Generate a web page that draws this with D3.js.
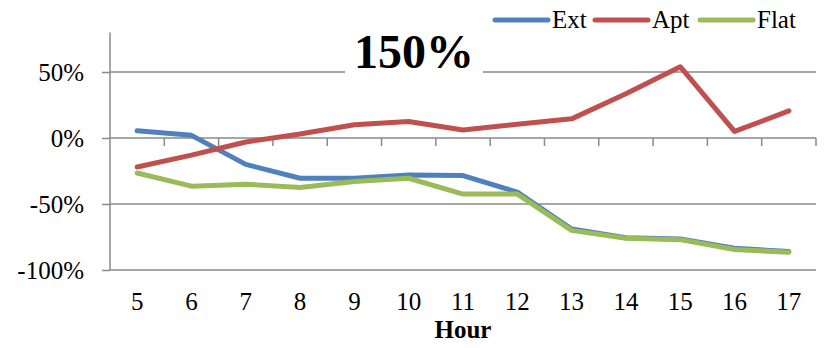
<!DOCTYPE html>
<html><head><meta charset="utf-8">
<script src="https://cdn.jsdelivr.net/npm/d3@7"></script>
<style>
html,body{margin:0;padding:0;background:#fff;}
svg{display:block;}
</style></head>
<body><svg id="c" width="831" height="348" font-family="Liberation Serif"></svg>
<script>
const hours = ["5","6","7","8","9","10","11","12","13","14","15","16","17"];
const ext  = [5.5, 2, -20, -30.5, -30.5, -28, -28.5, -41, -69, -75.5, -76.5, -83.5, -86];
const apt  = [-22, -13, -3, 3, 10, 12.5, 6, 10.5, 14.5, 33.5, 54, 5, 20.5];
const flat = [-26.5, -36.5, -35, -37.5, -33, -30.5, -42.5, -42.5, -70, -76, -77, -84.5, -86.5];
const yTicks = [50, 0, -50, -100];
const yTickLabels = ["50%", "0%", "-50%", "-100%"];
const seriesNames = ["Ext", "Apt", "Flat"];
const seriesColors = ["#4F81BD", "#C0504D", "#9BBB59"];
const titleText = "150%";
const xTitle = "Hour";
const yAxisTop = 80;

const FONT = "Liberation Serif";
const svg = d3.select("#c");
const L = 110, R = 816;
const x = d3.scaleBand().domain(hours).range([L, R]);
const y = d3.scaleLinear().domain([-100, 50]).range([270, 72]);
const grey = "#8a8a8a";

// gridlines
svg.append("g").selectAll("line").data(yTicks).join("line")
  .attr("x1", L).attr("x2", R)
  .attr("y1", d => y(d)).attr("y2", d => y(d))
  .attr("stroke", grey).attr("stroke-width", 1.5);

// y axis
const yAxis = d3.axisLeft(y).tickValues(yTicks).tickSize(8).tickPadding(18)
  .tickFormat((d, i) => yTickLabels[i]);
const gy = svg.append("g").attr("transform", `translate(${L},0)`).call(yAxis)
  .attr("font-family", FONT).attr("font-size", 25);
gy.select(".domain").remove();
gy.selectAll(".tick line").attr("stroke", grey).attr("stroke-width", 1.5);
gy.selectAll(".tick text").attr("fill", "#000").attr("dy", "0.34em");
svg.append("line").attr("x1", L).attr("x2", L).attr("y1", y(yAxisTop)).attr("y2", y(-100))
  .attr("stroke", grey).attr("stroke-width", 1.5);

// x axis at 0 (ticks at category boundaries)
svg.append("g").selectAll("line").data(hours).join("line")
  .attr("x1", d => x(d) + x.bandwidth()).attr("x2", d => x(d) + x.bandwidth())
  .attr("y1", y(0)).attr("y2", y(0) + 8)
  .attr("stroke", grey).attr("stroke-width", 1.5);
svg.append("g").selectAll("text").data(hours).join("text")
  .attr("x", d => x(d) + x.bandwidth() / 2).attr("y", 310)
  .attr("text-anchor", "middle").attr("font-family", FONT).attr("font-size", 25).text(d => d);
svg.append("text").attr("x", (L + R) / 2).attr("y", 338).attr("text-anchor", "middle")
  .attr("font-family", FONT).attr("font-size", 25).attr("font-weight", "bold").text(xTitle);

// lines
const data = [ext, apt, flat];
const line = d3.line().x((d, i) => x(hours[i]) + x.bandwidth() / 2).y(d => y(d));
svg.append("g").selectAll("path").data(data).join("path")
  .attr("d", d => line(d)).attr("fill", "none")
  .attr("stroke", (d, i) => seriesColors[i]).attr("stroke-width", 5)
  .attr("stroke-linejoin", "round").attr("stroke-linecap", "round");

// title with white background
const tg = svg.append("g");
const tr = tg.append("rect").attr("fill", "#fff");
const tt = tg.append("text").attr("x", 414).attr("y", 68).attr("text-anchor", "middle")
  .attr("font-family", FONT).attr("font-size", 48).attr("font-weight", "bold").text(titleText);
const bb = tt.node().getBBox();
tr.attr("x", bb.x - 9).attr("y", bb.y).attr("width", bb.width + 18).attr("height", bb.height);

// legend
const legX = [495, 595, 700];
const lg = svg.append("g").selectAll("g").data(seriesNames).join("g")
  .attr("transform", (d, i) => `translate(${legX[i]},20)`);
lg.append("line").attr("x1", 0).attr("x2", 53).attr("y1", 0).attr("y2", 0)
  .attr("stroke", (d, i) => seriesColors[i]).attr("stroke-width", 5).attr("stroke-linecap", "round");
lg.append("text").attr("x", 57).attr("y", 8).attr("font-family", FONT).attr("font-size", 25).text(d => d);
</script></body></html>
